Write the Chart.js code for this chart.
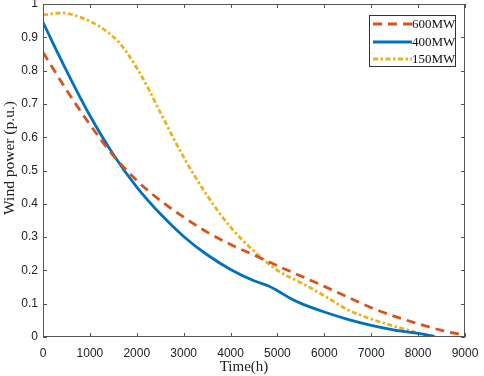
<!DOCTYPE html>
<html><head><meta charset="utf-8">
<script src="https://cdn.jsdelivr.net/npm/chart.js@4"></script>
<style>html,body{margin:0;padding:0;background:#fff}#wrap{width:484px;height:376px}</style>
</head><body><div id="wrap"><canvas id="c" width="484" height="376"></canvas></div>
<script>
const seriesLabels = ['600MW', '400MW', '150MW'];
const xTitle = 'Time(h)';
const yTitle = 'Wind power (p.u.)';
const hours600 = [0,500,1000,1500,2000,2500,3000,3500,4000,4500,5000,5500,6000,6500,7000,7500,8000,8500,8800,8900];
const power600 = [0.855,0.742,0.638,0.545,0.47,0.41,0.36,0.315,0.278,0.246,0.214,0.183,0.152,0.12,0.088,0.062,0.04,0.02,0.011,0.009];
const hours400 = [0,500,1000,1500,2000,2500,3000,3500,4000,4500,4800,5000,5300,5500,6000,6500,7000,7500,8000,8350];
const power400 = [0.945,0.80,0.665,0.548,0.45,0.37,0.302,0.247,0.203,0.169,0.154,0.139,0.114,0.101,0.075,0.053,0.035,0.021,0.011,0.002];
const hours150 = [0,400,800,1200,1400,1600,1800,2000,2250,2500,3000,3500,4000,4500,5000,5500,6000,6500,7000,7500,8000,8180];
const power150 = [0.967,0.973,0.96,0.933,0.913,0.888,0.852,0.808,0.745,0.675,0.54,0.425,0.33,0.258,0.20,0.163,0.124,0.082,0.054,0.032,0.011,0.0];
const xTicks = [0,1000,2000,3000,4000,5000,6000,7000,8000,9000];
const yTicks = [0,0.1,0.2,0.3,0.4,0.5,0.6,0.7,0.8,0.9,1];

const pts = (xs, ys) => xs.map((x, i) => ({x, y: ys[i]}));

const boxTicks = {
  id: 'boxTicks',
  afterDatasetsDraw(chart) {
    const {ctx, chartArea: a, scales: {x, y}} = chart;
    ctx.save();
    ctx.strokeStyle = '#555'; ctx.lineWidth = 1;
    ctx.strokeRect(a.left + 0.5, a.top + 0.5, a.right - a.left - 1, a.bottom - a.top - 1);
    ctx.beginPath();
    xTicks.forEach(v => {
      const px = Math.round(x.getPixelForValue(v)) + 0.5;
      ctx.moveTo(px, a.bottom); ctx.lineTo(px, a.bottom - 4);
      ctx.moveTo(px, a.top); ctx.lineTo(px, a.top + 4);
    });
    yTicks.forEach(v => {
      const py = Math.round(y.getPixelForValue(v)) + 0.5;
      ctx.moveTo(a.left, py); ctx.lineTo(a.left + 4, py);
      ctx.moveTo(a.right, py); ctx.lineTo(a.right - 4, py);
    });
    ctx.stroke();
    // axis titles
    ctx.fillStyle = '#222';
    ctx.textAlign = 'center'; ctx.textBaseline = 'middle';
    ctx.font = '15px "Liberation Serif", serif';
    ctx.fillText(xTitle, 244, 367);
    ctx.save();
    ctx.translate(10, 158);
    ctx.rotate(-Math.PI / 2);
    ctx.font = '15.5px "Liberation Serif", serif';
    ctx.fillText(yTitle, 0, 0);
    ctx.restore();
    // legend
    const lx = 369, ly = 15, lw = 86, lh = 51;
    ctx.fillStyle = '#fff';
    ctx.fillRect(lx, ly, lw, lh);
    ctx.strokeStyle = '#333';
    ctx.strokeRect(lx + 0.5, ly + 0.5, lw, lh);
    const rows = [24, 42, 59];
    chart.data.datasets.forEach((ds, i) => {
      ctx.beginPath();
      ctx.strokeStyle = ds.borderColor; ctx.lineWidth = ds.borderWidth;
      ctx.setLineDash(ds.borderDash || []);
      ctx.moveTo(373, rows[i]); ctx.lineTo(412, rows[i]);
      ctx.stroke();
      ctx.setLineDash([]);
      ctx.fillStyle = '#111';
      ctx.font = '13px "Liberation Serif", serif';
      ctx.textBaseline = 'middle'; ctx.textAlign = 'left';
      ctx.fillText(ds.label, 412, rows[i] + 1);
    });
    ctx.restore();
  }
};

new Chart(document.getElementById('c'), {
  type: 'line',
  data: {
    datasets: [
      {label: seriesLabels[0], data: pts(hours600, power600), borderColor: '#D95319', borderWidth: 2.8, borderDash: [9, 6], pointRadius: 0, cubicInterpolationMode: 'monotone', fill: false},
      {label: seriesLabels[1], data: pts(hours400, power400), borderColor: '#0072BD', borderWidth: 2.8, pointRadius: 0, cubicInterpolationMode: 'monotone', fill: false},
      {label: seriesLabels[2], data: pts(hours150, power150), borderColor: '#EDB120', borderWidth: 2.8, borderDash: [5, 2.5, 2.5, 2.5], pointRadius: 0, cubicInterpolationMode: 'monotone', fill: false}
    ]
  },
  options: {
    responsive: false, animation: false,
    layout: {padding: {top: 4, right: 19, left: 0, bottom: 0}},
    plugins: {legend: {display: false}, tooltip: {enabled: false}},
    scales: {
      x: {
        type: 'linear', min: 0, max: 9000,
        afterBuildTicks: s => { s.ticks = xTicks.map(v => ({value: v})); },
        afterFit: s => { s.height = 39; s.paddingRight = 0; s.paddingLeft = 0; },
        grid: {display: false, drawTicks: false}, border: {display: false},
        ticks: {color: '#222', font: {family: '"Liberation Sans", Arial, sans-serif', size: 12}, padding: 9, maxRotation: 0, autoSkip: false, callback: v => String(v)}
      },
      y: {
        type: 'linear', min: 0, max: 1,
        afterBuildTicks: s => { s.ticks = yTicks.map(v => ({value: v})); },
        afterFit: s => { s.width = 43; s.paddingTop = 0; s.paddingBottom = 0; },
        grid: {display: false, drawTicks: false}, border: {display: false},
        ticks: {color: '#222', font: {family: '"Liberation Sans", Arial, sans-serif', size: 12}, padding: 5, autoSkip: false, callback: v => String(+v.toFixed(1))}
      }
    }
  },
  plugins: [boxTicks]
});
</script></body></html>
